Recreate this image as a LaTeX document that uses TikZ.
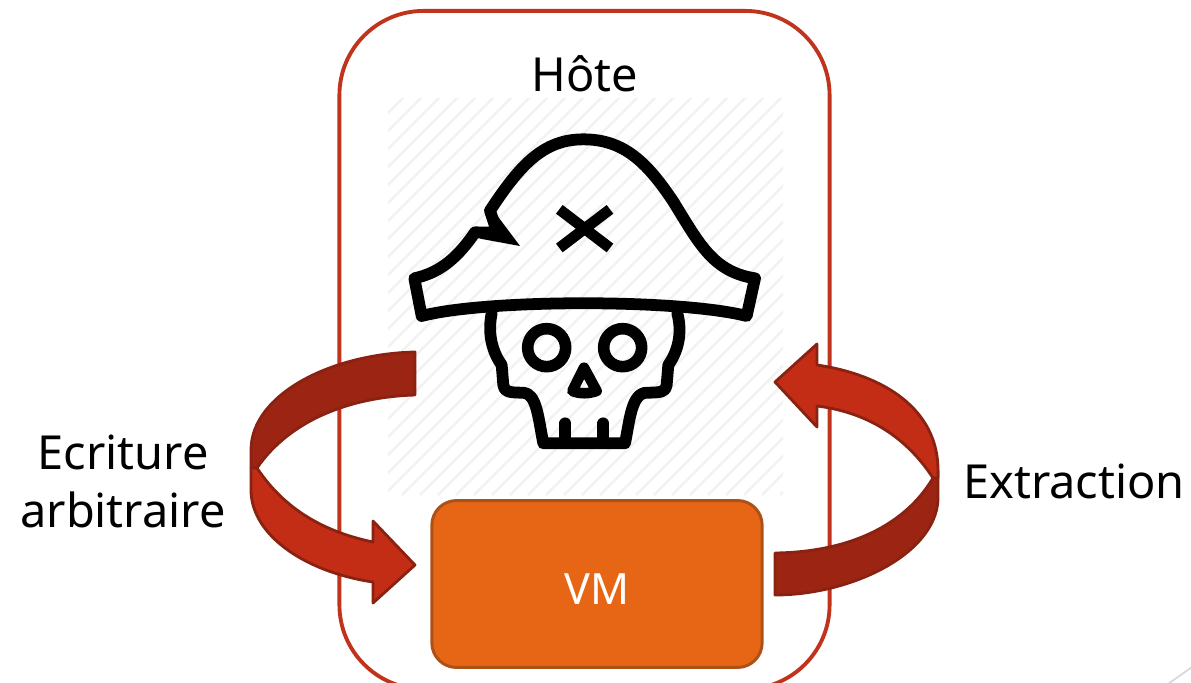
\documentclass[tikz,border=0pt]{standalone}
\usepackage{fontspec}
\setmainfont{Noto Sans}
\definecolor{hostred}{HTML}{C0331D}
\definecolor{vmfill}{HTML}{E66616}
\definecolor{vmline}{HTML}{AD5217}
\definecolor{arrowfront}{HTML}{C32D16}
\definecolor{arrowback}{HTML}{9C2412}
\definecolor{arrowline}{HTML}{8A2212}
\definecolor{hatch}{HTML}{F2F2F2}
\tikzset{
  hostbox/.style={draw=hostred,line width=2.2pt,rounded corners=48pt,minimum width=279pt,minimum height=386pt,inner sep=0pt},
  vmbox/.style={draw=vmline,fill=vmfill,line width=1.7pt,rounded corners=14pt,minimum width=188pt,minimum height=95pt,text=white,inner sep=0pt,font=\fontsize{24.5}{28}\selectfont},
  label/.style={inner sep=0pt,align=center,font=\fontsize{26.7}{33}\selectfont},
  icon/.style={draw=black,line width=6.7pt,line join=round,line cap=round},
  band/.style={draw=arrowline,line width=1.6pt,line join=round},
}
\begin{document}
\begin{tikzpicture}[x=0.02cm,y=-0.02cm]
  \useasboundingbox (0,0) rectangle (1191,683);
  \clip (0,0) rectangle (1191,683);

  \node[hostbox] (hote) at (584.5,350) {};

  %Fond hachure
  \begin{scope}
    \clip (388,98) rectangle (783,495);
    \foreach \i in {0,...,45}
      \draw[hatch,line width=1.5pt] (388+18*\i-400,495) -- ++(400,-400);
  \end{scope}

  %Pirate
  \begin{scope}[shift={(380,90)},scale=1/3]
    \draw[icon] (103,565) .. controls (170,550) and (225,515) .. (285,427)
      -- (352,428) -- (330,362)
      .. controls (420,225) and (490,148) .. (610,148)
      .. controls (730,148) and (800,215) .. (880,335)
      .. controls (960,465) and (1000,545) .. (1125,565)
      -- (1100,678) .. controls (900,627) and (320,627) .. (125,678) -- cycle;
    \fill (345,368) -- (420,468) -- (300,446) -- (340,420) -- cycle;
    \draw[icon,line cap=butt,line width=6.2pt] (538,358) -- (690,474);
    \draw[icon,line cap=butt,line width=6.2pt] (690,358) -- (538,474);
    \draw[icon] (335,670) .. controls (325,720) and (330,775) .. (365,825) -- (370,885)
      .. controls (372,905) and (385,908) .. (430,908)
      .. controls (470,910) and (475,985) .. (490,1060) -- (735,1060)
      .. controls (750,985) and (755,910) .. (800,908)
      .. controls (845,908) and (858,905) .. (860,885) -- (865,825)
      .. controls (900,775) and (905,720) .. (892,670);
    \draw[icon] (556,1000) -- (556,1055);
    \draw[icon] (670,1000) -- (670,1055);
    \draw[icon,line width=6.6pt] (500,773) circle (57);
    \draw[icon,line width=6.6pt] (728,773) circle (57);
    \draw[icon,line width=6pt] (612,833) -- (577,903) .. controls (600,912) and (625,912) .. (650,903) -- cycle;
  \end{scope}

  \node[vmbox] (vm) at (597,584) {\raisebox{-11.5pt}[0pt][0pt]{VM}};
  \node[label] (titre) at (585,74) {Hôte};
  \node[label] (ecriture) at (123,481) {Ecriture\\arbitraire};
  \node[label] (extraction) at (1074,481) {Extraction};

  %Fleche de gauche
  \draw[band,fill=arrowback] (415,352) .. controls (330,354) and (251,395) .. (251,450) -- (251,468) -- (257,468)
    .. controls (290,420) and (350,397) .. (415,395) -- cycle;
  \draw[band,fill=arrowfront] (257,468) .. controls (285,510) and (325,532) .. (373,542)
    -- (373,521) -- (415,565) -- (373,603) -- (373,582)
    .. controls (305,572) and (251,535) .. (251,490) -- (251,468) -- cycle;

  %Fleche de droite
  \draw[band,fill=arrowback] (775,553) .. controls (850,552) and (905,525) .. (933,478) -- (938,470) -- (938,500)
    .. controls (935,555) and (850,595) .. (775,595) -- cycle;
  \draw[band,fill=arrowfront] (933,478) .. controls (905,435) and (865,412) .. (817,406)
    -- (817,427) -- (775,382) -- (817,344) -- (817,365)
    .. controls (885,375) and (938,410) .. (938,470) -- (938,478) -- cycle;

  %Coin de la diapositive
  \coordinate (coinA) at (1168,684);
  \coordinate (coinB) at (1192,667);
  \draw[black!15,line width=1pt] (coinA) -- (coinB);
\end{tikzpicture}
\end{document}
